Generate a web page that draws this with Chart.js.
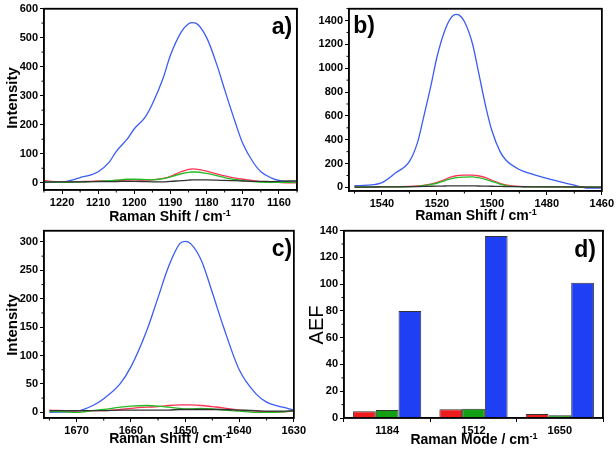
<!DOCTYPE html>
<html>
<head>
<meta charset="utf-8">
<script src="https://cdn.jsdelivr.net/npm/chart.js@4"></script>
<style>
  body { margin: 0; background: #fff; width: 616px; height: 452px; position: relative; overflow: hidden; font-family: "Liberation Sans", Arial, sans-serif; }
  .box { position: absolute; }
  .lbl { position: absolute; transform: translate(-50%, -50%); white-space: nowrap; color: #000; }
  .xt { font-weight: bold; font-size: 14px; }
  .xt sup { font-size: 9px; }
  .yt { font-weight: bold; font-size: 15px; transform: translate(-50%, -50%) rotate(-90deg); }
  .pl { font-weight: bold; font-size: 23px; }
</style>
</head>
<body>
<div class="box" style="left:0;top:0;width:308px;height:222px"><canvas id="chartA"></canvas></div>
<div class="box" style="left:308px;top:0;width:308px;height:222px"><canvas id="chartB"></canvas></div>
<div class="box" style="left:0;top:222px;width:308px;height:230px"><canvas id="chartC"></canvas></div>
<div class="box" style="left:308px;top:222px;width:308px;height:230px"><canvas id="chartD"></canvas></div>

<div class="lbl xt" style="left:170px;top:216px">Raman Shift / cm<sup>-1</sup></div>
<div class="lbl xt" style="left:476px;top:215px">Raman Shift / cm<sup>-1</sup></div>
<div class="lbl xt" style="left:170px;top:438px">Raman Shift / cm<sup>-1</sup></div>
<div class="lbl xt" style="left:474px;top:439px">Raman Mode / cm<sup>-1</sup></div>
<div class="lbl yt" style="left:11px;top:98px">Intensity</div>
<div class="lbl yt" style="left:11px;top:325px">Intensity</div>
<div class="lbl" style="left:316px;top:325px;font-size:20px;transform:translate(-50%,-50%) rotate(-90deg)">AEF</div>
<div class="lbl pl" style="left:282px;top:26px">a)</div>
<div class="lbl pl" style="left:364px;top:25px">b)</div>
<div class="lbl pl" style="left:282px;top:248px">c)</div>
<div class="lbl pl" style="left:585px;top:249px">d)</div>

<script>
// panel a) ~1184 band
const aShift = [1225, 1222, 1220, 1217, 1215, 1212, 1210, 1207, 1205, 1202, 1200, 1197, 1195, 1192, 1190, 1187, 1185, 1184, 1183, 1180, 1177, 1175, 1172, 1170, 1167, 1165, 1162, 1160, 1157, 1155];
const aBlue  = [3, 1, 2, 10, 18, 27, 38, 70, 108, 150, 186, 226, 272, 362, 440, 520, 548, 552, 550, 500, 400, 320, 205, 135, 68, 38, 16, 8, 3, 1];
const aRed   = [8, 4, 2, 3, 4, 5, 6, 7, 8, 9, 10, 9, 10, 15, 22, 38, 46, 48, 47, 40, 30, 24, 16, 12, 7, 4, 2, 1, 0, 0];
const aGreen = [3, 2, 1, 2, 3, 4, 5, 7, 9, 12, 12, 11, 10, 14, 20, 31, 36, 37, 37, 32, 24, 18, 11, 7, 4, 2, 1, 1, 1, 2];
const aBlack = [2, 3, 3, 3, 3, 4, 4, 4, 4, 5, 5, 4, 3, 3, 5, 7, 9, 10, 10, 10, 9, 8, 7, 6, 5, 5, 4, 5, 6, 6];
const aTicksX = [1220, 1210, 1200, 1190, 1180, 1170, 1160];
const aTicksY = [0, 100, 200, 300, 400, 500, 600];

// panel b) ~1512 band
const bShift = [1550, 1545, 1540, 1535, 1530, 1527, 1525, 1522, 1520, 1517, 1515, 1513, 1512, 1510, 1507, 1505, 1502, 1500, 1497, 1495, 1490, 1485, 1480, 1475, 1470, 1465, 1460];
const bBlue  = [14, 19, 41, 123, 218, 382, 573, 873, 1092, 1324, 1419, 1452, 1447, 1392, 1201, 983, 655, 478, 300, 232, 150, 109, 76, 46, 19, -5, -5];
const bRed   = [5, 6, 6, 7, 8, 12, 18, 30, 42, 68, 86, 98, 101, 104, 104, 98, 80, 60, 35, 22, 8, 6, 5, 4, 3, 2, 2];
const bGreen = [3, 4, 4, 5, 5, 9, 14, 25, 35, 58, 72, 82, 85, 87, 88, 82, 66, 50, 28, 16, 6, 5, 5, 4, 3, 2, 2];
const bBlack = [3, 3, 4, 5, 6, 7, 8, 10, 11, 12, 13, 13, 13, 13, 13, 12, 11, 10, 8, 7, 6, 5, 5, 4, 4, 3, 3];
const bTicksX = [1540, 1520, 1500, 1480, 1460];
const bTicksY = [0, 200, 400, 600, 800, 1000, 1200, 1400];

// panel c) ~1650 band
const cShift = [1675, 1670, 1667, 1665, 1662, 1660, 1657, 1655, 1653, 1651, 1650, 1649, 1647, 1645, 1643, 1640, 1637, 1635, 1632, 1630];
const cBlue  = [0, 2, 12, 24, 50, 80, 146, 202, 258, 297, 301, 297, 267, 211, 152, 74, 33, 18, 9, 4];
const cRed   = [4, 2, 3, 3, 5, 7, 9, 10, 12, 13, 13, 13, 12, 10, 8, 4, 2, 1, 1, 2];
const cGreen = [2, 0, 3, 5, 9, 11, 12, 11, 9, 7, 6, 6, 7, 6, 4, 2, 0, 0, 1, 3];
const cBlack = [3, 3, 3, 3, 4, 4, 4, 4, 4, 5, 5, 5, 5, 5, 5, 4, 3, 2, 2, 3];
const cTicksX = [1670, 1660, 1650, 1640, 1630];
const cTicksY = [0, 50, 100, 150, 200, 250, 300];

// panel d) enhancement factors
const modes = ['1184', '1512', '1650'];
const aefRed   = [5, 6.5, 3];
const aefGreen = [6, 7, 2];
const aefBlue  = [80, 136, 101];
const dTicksY = [0, 20, 40, 60, 80, 100, 120, 140];

const tickFont = { family: 'Liberation Sans', size: 11, weight: 'bold' };

// box round the plot area + minor ticks halfway between the major ones
const minorTicks = {
  id: 'minorticks',
  afterDraw(chart) {
    const ctx = chart.ctx;
    const a = chart.chartArea;
    ctx.save();
    ctx.strokeStyle = '#000';
    ctx.lineWidth = 1.5;
    ctx.strokeRect(a.left, a.top, a.right - a.left, a.bottom - a.top);
    ctx.lineWidth = 1;
    try {
      for (const id of ['x', 'y']) {
        const s = chart.scales[id];
        if (!s || s.options.type !== 'linear' || s.ticks.length < 2) continue;
        const v = s.ticks.map(t => t.value);
        const step = Math.abs(v[1] - v[0]);
        if (!(step > 0)) continue;
        const lo = Math.min(s.min, s.max), hi = Math.max(s.min, s.max);
        for (let m = Math.min(...v) - step / 2; m <= hi; m += step) {
          if (m < lo) continue;
          const p = s.getPixelForValue(m);
          ctx.beginPath();
          if (id === 'x') { ctx.moveTo(p, a.bottom); ctx.lineTo(p, a.bottom + 2.5); }
          else { ctx.moveTo(a.left, p); ctx.lineTo(a.left - 2.5, p); }
          ctx.stroke();
        }
      }
    } catch (e) { }
    ctx.restore();
  }
};
Chart.register(minorTicks);

// plain axes at top and right that only draw their border line, closing the box
function frameAxis(pos, min, max, reverse) {
  const horiz = pos === 'top';
  return {
    type: 'linear', position: pos, min: min, max: max, reverse: !!reverse,
    afterFit: s => { if (horiz) s.height = 0; else s.width = 0; },
    grid: { display: false, drawTicks: false },
    border: { display: true, color: '#000', width: 1.5 },
    ticks: { display: false }
  };
}

function line(xs, ys, color) {
  return {
    data: xs.map((x, i) => ({ x: x, y: ys[i] })),
    borderColor: color,
    borderWidth: 1.3,
    pointRadius: 0,
    fill: false,
    cubicInterpolationMode: 'monotone'
  };
}

function axisX(min, max, ticks, h) {
  return {
    type: 'linear', reverse: true, min: min, max: max,
    afterBuildTicks: s => { s.ticks = ticks.map(v => ({ value: v })); },
    afterFit: s => { s.height = h; },
    grid: { drawOnChartArea: false, tickLength: 4, color: '#000' },
    border: { color: '#000', width: 1.5 },
    ticks: { color: '#000', font: tickFont, padding: 2, maxRotation: 0, callback: v => String(v) }
  };
}

function axisY(min, max, ticks, w) {
  return {
    type: 'linear', min: min, max: max,
    afterBuildTicks: s => { s.ticks = ticks.map(v => ({ value: v })); },
    afterFit: s => { s.width = w; },
    grid: { drawOnChartArea: false, tickLength: 4, color: '#000' },
    border: { color: '#000', width: 1.5 },
    ticks: { color: '#000', font: tickFont, padding: 2, callback: v => String(v) }
  };
}

function spectrum(id, xs, blue, red, green, black, xr, yr, pad, xh, yw) {
  new Chart(document.getElementById(id), {
    type: 'line',
    data: {
      datasets: [
        line(xs, black, '#333333'),
        line(xs, green, '#22bb22'),
        line(xs, red, '#ff3355'),
        line(xs, blue, '#3a5cf5')
      ]
    },
    options: {
      responsive: true, maintainAspectRatio: false, animation: false,
      layout: { padding: pad },
      plugins: { legend: { display: false }, tooltip: { enabled: false } },
      scales: {
        x: axisX(xr[0], xr[1], xr[2], xh),
        y: axisY(yr[0], yr[1], yr[2], yw),
        xTop: frameAxis('top', xr[0], xr[1], true),
        yRight: frameAxis('right', yr[0], yr[1])
      }
    }
  });
}

spectrum('chartA', aShift, aBlue, aRed, aGreen, aBlack,
  [1155, 1225, aTicksX], [-25, 600, aTicksY], { left: 0, top: 2, right: 11, bottom: 0 }, 32, 44);
spectrum('chartB', bShift, bBlue, bRed, bGreen, bBlack,
  [1460, 1552, bTicksX], [-30, 1500, bTicksY], { left: 0, top: 0, right: 13, bottom: 0 }, 31, 41);
spectrum('chartC', cShift, cBlue, cRed, cGreen, cBlack,
  [1630, 1676, cTicksX], [-10, 320, cTicksY], { left: 0, top: 7, right: 11, bottom: 0 }, 34, 44);

new Chart(document.getElementById('chartD'), {
  type: 'bar',
  data: {
    labels: modes,
    datasets: [
      { data: aefRed, backgroundColor: '#ee1c1c', borderColor: '#333', borderWidth: 1 },
      { data: aefGreen, backgroundColor: '#14a014', borderColor: '#333', borderWidth: 1 },
      { data: aefBlue, backgroundColor: '#1f3ff5', borderColor: '#333', borderWidth: 1 }
    ]
  },
  options: {
    responsive: true, maintainAspectRatio: false, animation: false,
    layout: { padding: { left: 0, top: 6, right: 13, bottom: 0 } },
    datasets: { bar: { categoryPercentage: 0.79, barPercentage: 1 } },
    plugins: { legend: { display: false }, tooltip: { enabled: false } },
    scales: {
      x: {
        afterFit: s => { s.height = 34; },
        grid: { drawOnChartArea: false, tickLength: 4, color: '#000', offset: true },
        border: { color: '#000', width: 1.5 },
        ticks: { color: '#000', font: tickFont, padding: 2 }
      },
      y: axisY(0, 140, dTicksY, 36),
      xTop: frameAxis('top', 0, 1),
      yRight: frameAxis('right', 0, 140)
    }
  }
});
</script>
</body>
</html>
